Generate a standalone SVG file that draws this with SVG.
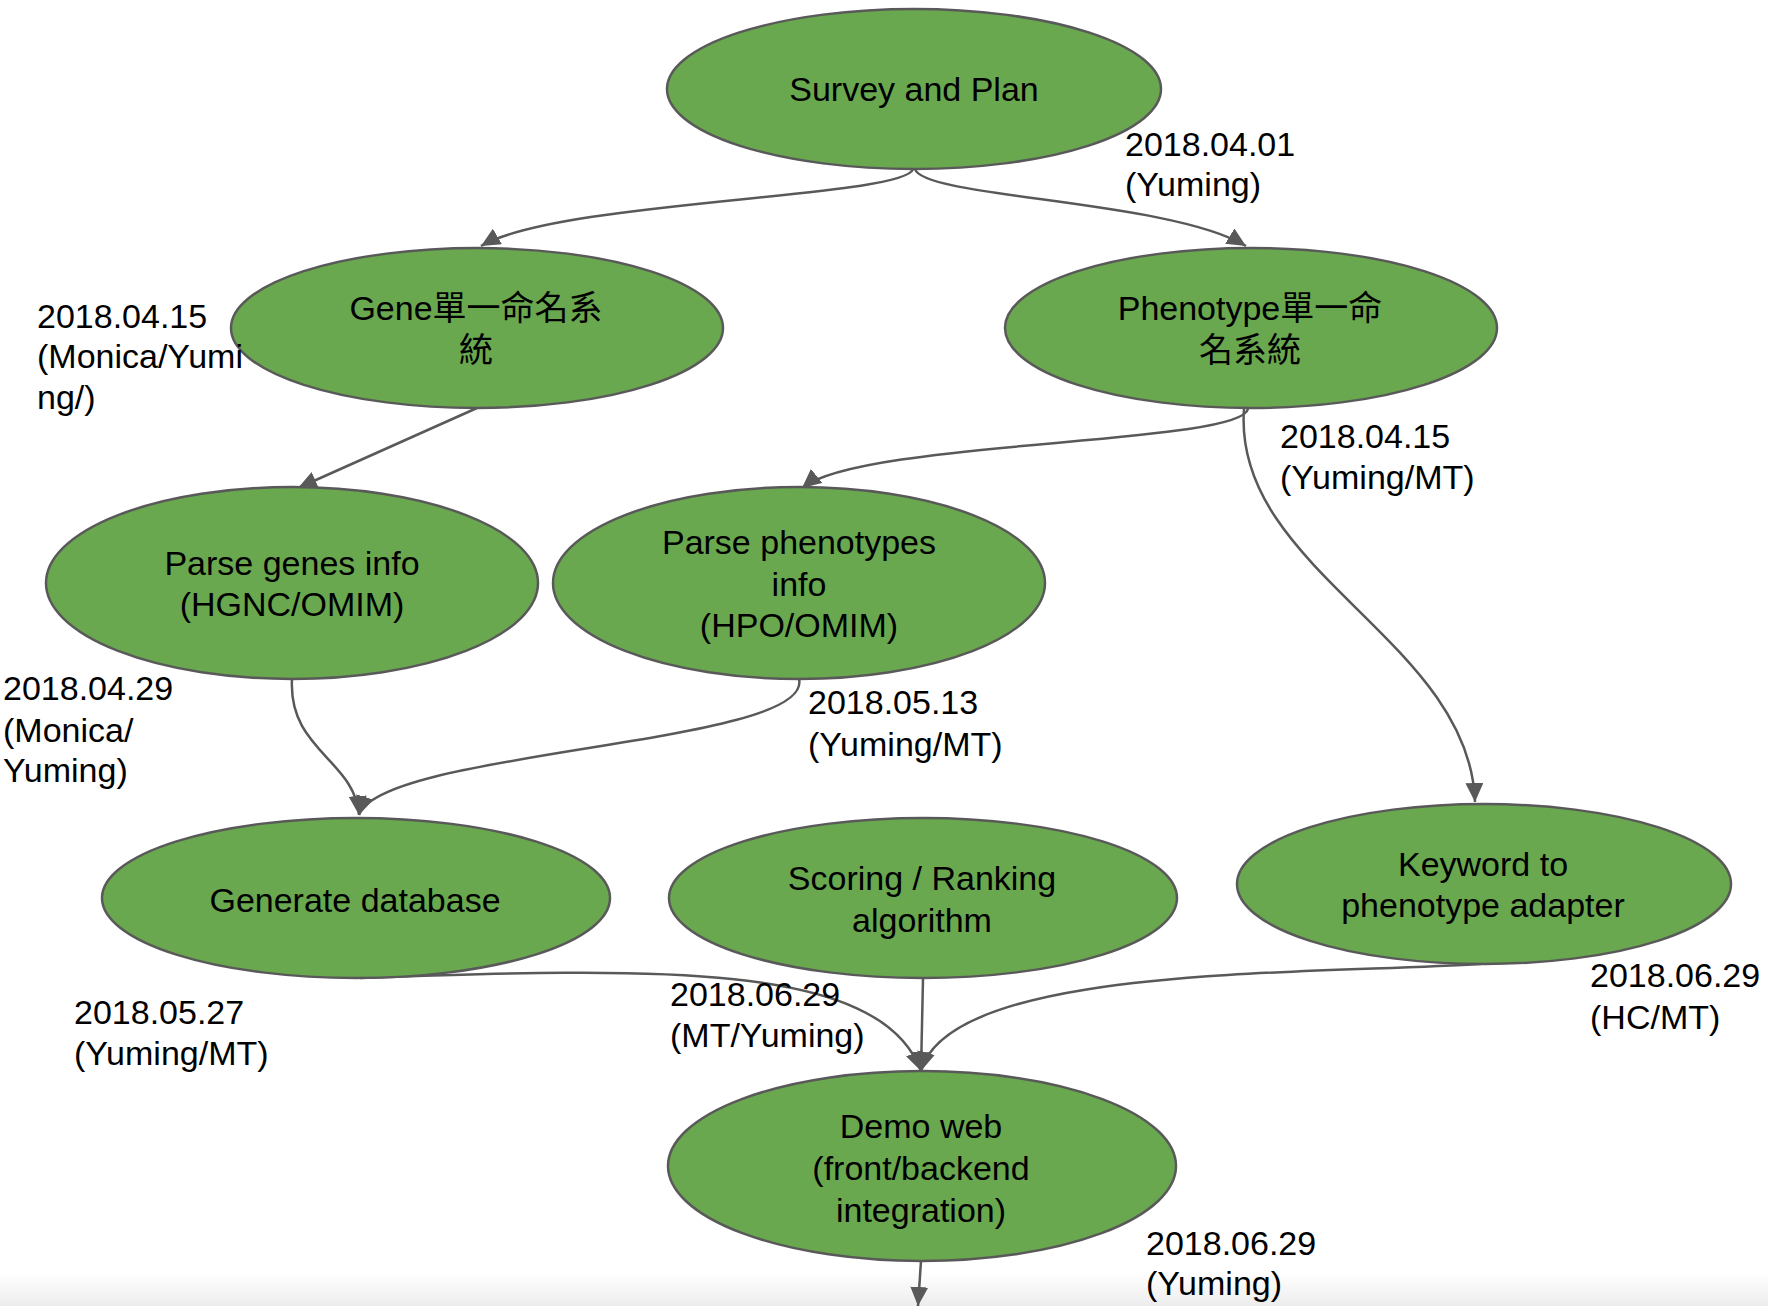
<svg xmlns="http://www.w3.org/2000/svg" width="1768" height="1306" viewBox="0 0 1768 1306">
<style>
.node{fill:#6aa84f;stroke:#595959;stroke-width:2.5}
.t{font-family:"Liberation Sans",Arial,"Noto Sans CJK TC",sans-serif;font-size:34px;fill:#000}
.c{text-anchor:middle}
.e{fill:none;stroke:#595959;stroke-width:2.5}
</style>
<defs>
<marker id="ah" markerUnits="userSpaceOnUse" markerWidth="20" markerHeight="18" refX="19" refY="9" orient="auto">
<path d="M0,0 L19,9 L0,18 Z" fill="#595959"/>
</marker>
<linearGradient id="bg" x1="0" y1="0" x2="0" y2="1">
<stop offset="0" stop-color="#ffffff"/>
<stop offset="1" stop-color="#ededed"/>
</linearGradient>
</defs>
<rect x="0" y="0" width="1768" height="1306" fill="#ffffff"/>
<rect x="0" y="1272" width="1768" height="34" fill="url(#bg)"/>

<g id="connectors">
<path class="e" marker-end="url(#ah)" d="M913,169 C905,198 560,200 481,246"/>
<path class="e" marker-end="url(#ah)" d="M915,169 C923,198 1170,200 1246,246"/>
<path class="e" marker-end="url(#ah)" d="M477,408 L298,488"/>
<path class="e" marker-end="url(#ah)" d="M1248,409 C1240,445 860,440 802,488"/>
<path class="e" marker-end="url(#ah)" d="M1244,409 C1232,570 1470,640 1475,802"/>
<path class="e" marker-end="url(#ah)" d="M292,679 C288,750 355,760 359,815"/>
<path class="e" marker-end="url(#ah)" d="M799,679 C815,745 380,750 359,815"/>
<path class="e" marker-end="url(#ah)" d="M360,978 C650,968 880,960 921,1071"/>
<path class="e" marker-end="url(#ah)" d="M923,979 L921,1071"/>
<path class="e" marker-end="url(#ah)" d="M1481,964 C1300,975 950,965 921,1071"/>
<path class="e" marker-end="url(#ah)" d="M921,1261 L918,1306"/>
</g>

<g id="node-survey">
<ellipse class="node" cx="914" cy="89" rx="247" ry="80"/>
<text class="t c" x="914" y="101">Survey and Plan</text>
</g>
<g id="node-gene">
<ellipse class="node" cx="477" cy="328" rx="246" ry="80"/>
<text class="t c" x="476" y="320">Gene單一命名系</text>
<text class="t c" x="476" y="362">統</text>
</g>
<g id="node-phenotype">
<ellipse class="node" cx="1251" cy="328" rx="246" ry="80"/>
<text class="t c" x="1250" y="320">Phenotype單一命</text>
<text class="t c" x="1250" y="362">名系統</text>
</g>
<g id="node-parse-genes">
<ellipse class="node" cx="292" cy="583" rx="246" ry="96"/>
<text class="t c" x="292" y="575">Parse genes info</text>
<text class="t c" x="292" y="616">(HGNC/OMIM)</text>
</g>
<g id="node-parse-phenotypes">
<ellipse class="node" cx="799" cy="583" rx="246" ry="96"/>
<text class="t c" x="799" y="554">Parse phenotypes</text>
<text class="t c" x="799" y="596">info</text>
<text class="t c" x="799" y="637">(HPO/OMIM)</text>
</g>
<g id="node-generate-db">
<ellipse class="node" cx="356" cy="898" rx="254" ry="80"/>
<text class="t c" x="355" y="912">Generate database</text>
</g>
<g id="node-scoring">
<ellipse class="node" cx="923" cy="898" rx="254" ry="80"/>
<text class="t c" x="922" y="890">Scoring / Ranking</text>
<text class="t c" x="922" y="932">algorithm</text>
</g>
<g id="node-keyword">
<ellipse class="node" cx="1484" cy="884" rx="247" ry="80"/>
<text class="t c" x="1483" y="876">Keyword to</text>
<text class="t c" x="1483" y="917">phenotype adapter</text>
</g>
<g id="node-demo">
<ellipse class="node" cx="922" cy="1166" rx="254" ry="95"/>
<text class="t c" x="921" y="1138">Demo web</text>
<text class="t c" x="921" y="1180">(front/backend</text>
<text class="t c" x="921" y="1222">integration)</text>
</g>

<g id="labels">
<text class="t" x="1125" y="156">2018.04.01</text>
<text class="t" x="1125" y="196">(Yuming)</text>
<text class="t" x="37" y="328">2018.04.15</text>
<text class="t" x="37" y="368">(Monica/Yumi</text>
<text class="t" x="37" y="409">ng/)</text>
<text class="t" x="1280" y="448">2018.04.15</text>
<text class="t" x="1280" y="489">(Yuming/MT)</text>
<text class="t" x="3" y="700">2018.04.29</text>
<text class="t" x="3" y="742">(Monica/</text>
<text class="t" x="3" y="782">Yuming)</text>
<text class="t" x="808" y="714">2018.05.13</text>
<text class="t" x="808" y="756">(Yuming/MT)</text>
<text class="t" x="74" y="1024">2018.05.27</text>
<text class="t" x="74" y="1065">(Yuming/MT)</text>
<text class="t" x="670" y="1006">2018.06.29</text>
<text class="t" x="670" y="1047">(MT/Yuming)</text>
<text class="t" x="1590" y="987">2018.06.29</text>
<text class="t" x="1590" y="1029">(HC/MT)</text>
<text class="t" x="1146" y="1255">2018.06.29</text>
<text class="t" x="1146" y="1295">(Yuming)</text>
</g>
</svg>
